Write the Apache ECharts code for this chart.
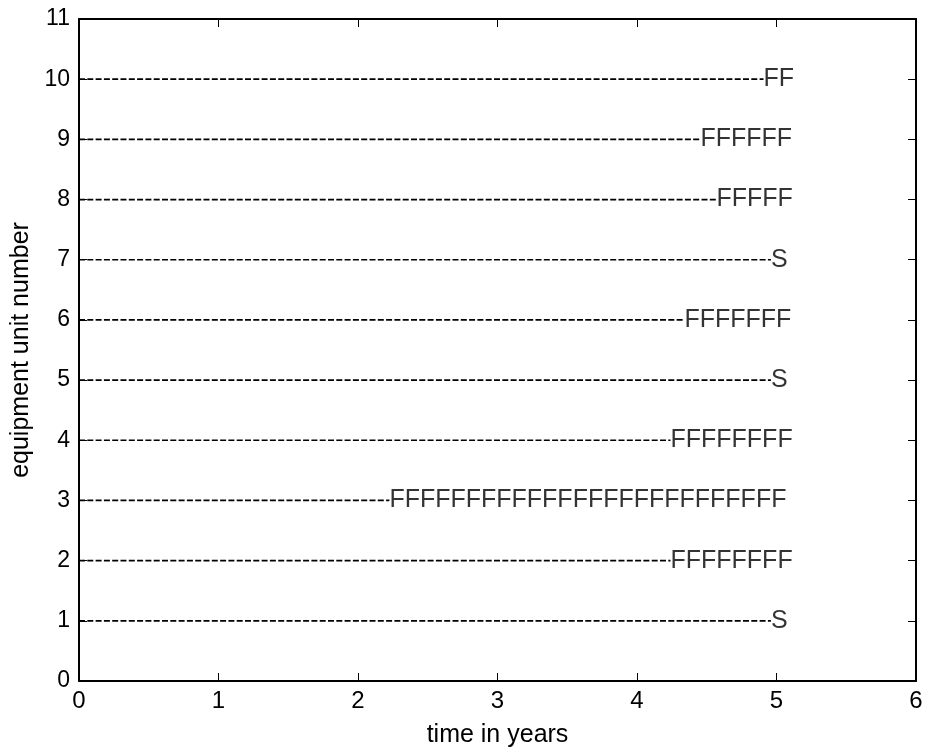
<!DOCTYPE html>
<html>
<head>
<meta charset="utf-8">
<script src="https://cdn.jsdelivr.net/npm/echarts@6/dist/echarts.min.js"></script>
<style>
html,body{margin:0;padding:0;background:#fff;}
#chart{width:925px;height:748px;}
</style>
</head>
<body>
<div id="chart"></div>
<script>
// Data
var units = [1, 2, 3, 4, 5, 6, 7, 8, 9, 10];
var firstEventTime = [4.96, 4.24, 2.225, 4.24, 4.96, 4.34, 4.96, 4.57, 4.455, 4.907];
var eventMarks = ['S', 'FFFFFFFF', 'FFFFFFFFFFFFFFFFFFFFFFFFFF', 'FFFFFFFF', 'S', 'FFFFFFF', 'S', 'FFFFF', 'FFFFFF', 'FF'];
var xTicks = [0, 1, 2, 3, 4, 5, 6];
var yTicks = [0, 1, 2, 3, 4, 5, 6, 7, 8, 9, 10, 11];

var FONT = 'Liberation Sans, Arial, Helvetica, sans-serif';

var series = [];
units.forEach(function (u, i) {
  series.push({
    type: 'line',
    data: [[0, u], [firstEventTime[i], u]],
    symbol: 'none',
    silent: true,
    lineStyle: { color: '#000', width: 1.7, type: [6, 2.3] },
    z: 2
  });
});
series.push({
  type: 'scatter',
  symbolSize: 0,
  data: units.map(function (u, i) { return { value: [firstEventTime[i], u], mark: eventMarks[i] }; }),
  label: {
    show: true,
    position: 'right',
    distance: 0,
    color: '#000',
    fontFamily: FONT,
    fontSize: 25,
    formatter: function (p) { return p.data.mark; }
  },
  z: 3
});

var chart = echarts.init(document.getElementById('chart'), null, { renderer: 'canvas' });
chart.setOption({
  animation: false,
  backgroundColor: '#fff',
  grid: { left: 79, right: 9, top: 19, bottom: 67, containLabel: false, outerBoundsMode: 'none' },
  xAxis: [{
    type: 'value', min: 0, max: 6, interval: 1,
    name: 'time in years', nameLocation: 'middle', nameGap: 42,
    nameTextStyle: { fontFamily: FONT, fontSize: 25, color: '#000' },
    axisLine: { show: true, onZero: false, lineStyle: { color: '#000', width: 2 } },
    axisTick: { show: true, inside: true, length: 8, lineStyle: { color: '#000', width: 1 } },
    axisLabel: { fontFamily: FONT, fontSize: 24, color: '#000', margin: 8,
      formatter: function (v) { return xTicks.indexOf(v) >= 0 ? String(v) : ''; } },
    splitLine: { show: false }
  }, {
    type: 'value', position: 'top', min: 0, max: 6, interval: 1,
    axisLine: { show: true, onZero: false, lineStyle: { color: '#000', width: 2 } },
    axisTick: { show: true, inside: true, length: 8, lineStyle: { color: '#000', width: 1 } },
    axisLabel: { show: false }, splitLine: { show: false }
  }],
  yAxis: [{
    type: 'value', min: 0, max: 11, interval: 1,
    name: 'equipment unit number', nameLocation: 'middle', nameGap: 45, nameRotate: 90,
    nameTextStyle: { fontFamily: FONT, fontSize: 25, color: '#000' },
    axisLine: { show: true, onZero: false, lineStyle: { color: '#000', width: 2 } },
    axisTick: { show: true, inside: true, length: 8, lineStyle: { color: '#000', width: 1 } },
    axisLabel: { fontFamily: FONT, fontSize: 23, color: '#000', margin: 9,
      formatter: function (v) { return yTicks.indexOf(v) >= 0 ? String(v) : ''; } },
    splitLine: { show: false }
  }, {
    type: 'value', position: 'right', min: 0, max: 11, interval: 1,
    axisLine: { show: true, onZero: false, lineStyle: { color: '#000', width: 2 } },
    axisTick: { show: true, inside: true, length: 8, lineStyle: { color: '#000', width: 1 } },
    axisLabel: { show: false }, splitLine: { show: false }
  }],
  series: series
});
</script>
</body>
</html>
